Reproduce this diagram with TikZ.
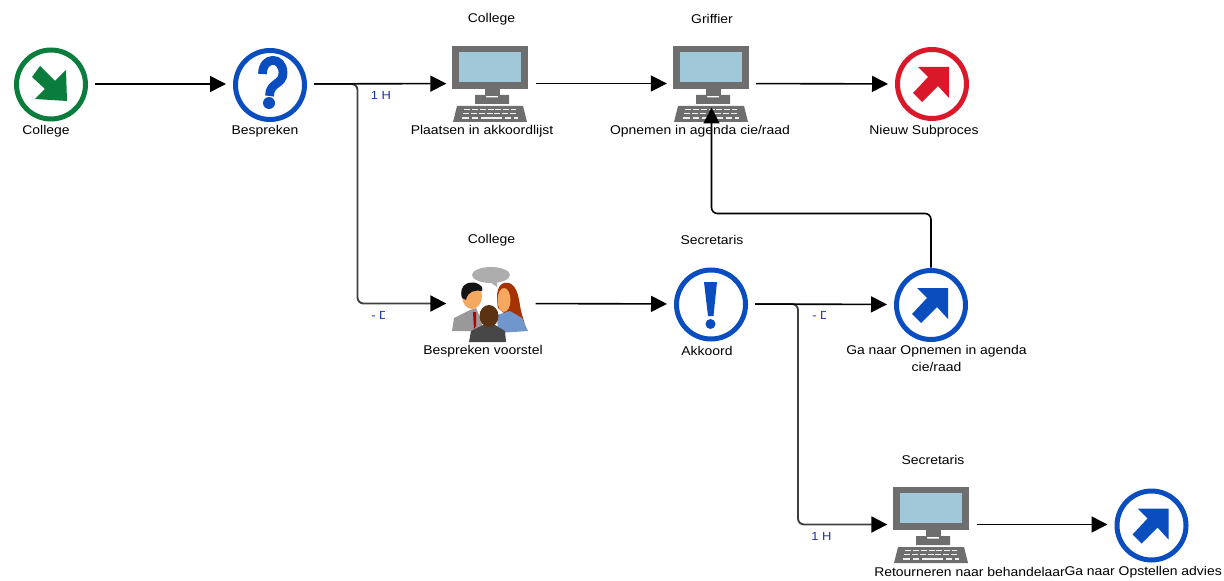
\documentclass[tikz,border=0pt]{standalone}
\usepackage{fontspec}
\setmainfont[FakeStretch=1.1]{Liberation Sans}
\usetikzlibrary{arrows.meta}
\definecolor{bluei}{HTML}{0A4DBF}
\definecolor{greeni}{HTML}{0A7D3C}
\definecolor{redi}{HTML}{D9192A}
\definecolor{scr}{HTML}{A0C8D8}
\definecolor{pcg}{HTML}{6E6E6E}
\definecolor{dur}{HTML}{1A2FB0}
\definecolor{skin}{HTML}{F5A860}
\definecolor{hairw}{HTML}{A53200}
\definecolor{dressw}{HTML}{7096CC}
\definecolor{hairm}{HTML}{5B3312}
\tikzset{
  x=0.75pt,y=-0.75pt,
  holder/.style={minimum width=66pt,minimum height=55.5pt,inner sep=0pt,outer sep=0pt},
  pcholder/.style={minimum width=67pt,minimum height=36pt,inner sep=0pt,outer sep=0pt},
  lbl/.style={font=\fontsize{9.5pt}{11pt}\selectfont,text=black,inner sep=0pt,align=center},
  durlbl/.style={font=\fontsize{8.8pt}{10pt}\selectfont,text=dur,inner sep=0pt},
  flow/.style={draw=black,line width=1.2pt,-{Triangle[length=12pt,width=12pt]}},
  branch/.style={draw=black!75,line width=1.4pt,rounded corners=4.5pt,-{Triangle[length=12pt,width=12pt,color=black]}},
  ring/.style={line width=3.75pt,fill=white},
  pics/pc/.style={code={
    \fill[pcg] (-38,-37) rectangle (38,6);
    \fill[scr] (-31,-31) rectangle (31,-1);
    \fill[pcg] (-5,6) rectangle (10,13);
    \fill[pcg] (-15,12) -- (-4,12) -- (-4,14.5) -- (8,14.5) -- (8,12) -- (19,12) -- (19,21) -- (-15,21) -- cycle;
    \fill[pcg] (-33,23) -- (33,23) -- (37,39) -- (-37,39) -- cycle;
    \draw[white!90!pcg,line width=1.1pt,dash pattern=on 4.5pt off 1.4pt] (-26,26.5) -- (26,26.5);
    \draw[white!90!pcg,line width=1.1pt,dash pattern=on 4.5pt off 1.4pt] (-27,30.5) -- (27,30.5);
    \draw[white!90!pcg,line width=1.1pt] (-28,35) -- (-21,35) (-18,35) -- (-12,35) (-9,35) -- (12,35) (15,35) -- (21,35) (24,35) -- (28,35);
  }},
  pics/goarrow/.style={code={
    \fill[#1] (17,-17) -- (-14,-17) -- (-4,-7) -- (-19,9) -- (-10,18) -- (6,2) -- (17,14) -- cycle;
  }}
}
\begin{document}
\begin{tikzpicture}
\useasboundingbox (0,0) rectangle (1224,581);
% nodes
\node[holder] (college) at (51,84) {};
\node[holder] (bespreken) at (270,84) {};
\node[pcholder] (plaatsen) at (491,83.5) {};
\node[pcholder] (opnemen) at (711.5,83.5) {};
\node[holder] (nieuw) at (932,84) {};
\node[pcholder] (voorstel) at (491,303.5) {};
\node[holder] (akkoord) at (711,304) {};
\node[holder] (ganaar) at (931,304.5) {};
\node[pcholder] (retour) at (932,524.5) {};
\node[holder] (opstellen) at (1151.5,524.5) {};

% icons
\draw[greeni,ring] (51,84.5) circle (34.5);
\fill[greeni] (67,101) -- (35,99) -- (45,89) -- (32,77) -- (40,66) -- (55,81) -- (66,70) -- cycle;
\draw[bluei,ring] (270,85) circle (34.5);
\draw[bluei,line width=6.6pt] (262.5,74) .. controls (262.5,56) and (283,56) .. (283,73) .. controls (283,85) and (269.5,82) .. (269.5,96);
\fill[bluei] (269,103) circle (6);
\pic at (490,83) {pc};
\pic at (711,83) {pc};
\draw[redi,ring] (932,84) circle (34.5);
\pic at (932,84) {goarrow=redi};
\draw[bluei,ring] (711,304.5) circle (34.5);
\fill[bluei] (704,282) -- (717,282) -- (713.5,316) -- (708,316) -- cycle;
\fill[bluei] (710.5,324) circle (5);
\draw[bluei,ring] (931,305) circle (34.5);
\pic at (931,305) {goarrow=bluei};
\pic at (931,524) {pc};
\draw[bluei,ring] (1151.5,525.5) circle (34.5);
\pic at (1151.5,525.5) {goarrow=bluei};

% people
\fill[black!32] (491,275) ellipse (19 and 8);
\fill[black!32] (490,282) -- (497,287) -- (497,281) -- cycle;
\fill[black!40] (452,331) -- (454,318) -- (470,310) -- (476,308) -- (482,322) -- (482,331) -- cycle;
\fill[red!70!black] (473,312) -- (476,312) -- (476,326) -- (474,329) -- cycle;
\fill[skin] (472,296) ellipse (10 and 13);
\fill[black!92] (462,298) .. controls (458,284) and (470,281) .. (476,283) .. controls (482,285) and (483,288) .. (482,291) .. controls (474,290) and (468,291) .. (466,300) -- cycle;
\fill[hairw] (498,308) .. controls (494,285) and (503,281) .. (509,283) .. controls (518,286) and (519,300) .. (521,311) -- (525,325) -- (512,320) -- cycle;
\fill[dressw] (497,315) -- (510,311) -- (522,318) -- (528,331) -- (498,333) -- cycle;
\fill[skin] (504,300) ellipse (6.5 and 12);
\fill[black!72] (469,342) -- (471,331) -- (483,325) -- (495,325) -- (505,331) -- (506,342) -- cycle;
\fill[hairm] (489,316) ellipse (9.5 and 11);

% connectors
\draw[branch] (bespreken.east) -- ++(43.5,0) |- (voorstel.west);
\draw[branch] (akkoord.east) -- ++(43,0) |- (retour.west);
\draw[flow] (college) -- (bespreken);
\draw[flow] (bespreken) -- (plaatsen);
\draw[flow] (plaatsen) -- (opnemen);
\draw[flow] (opnemen) -- (nieuw);
\draw[flow] (voorstel) -- (akkoord);
\draw[flow] (akkoord) -- (ganaar);
\draw[flow] (retour) -- (opstellen);
\draw[flow,rounded corners=4.5pt] (ganaar.north) -- ++(0,-54) -| (opnemen.south);

% duration labels
\node[durlbl] (d1) at (381,95) {1 H};
\begin{scope}
\clip (368,305) rectangle (384.5,325);
\node[durlbl,anchor=west] (d2) at (371,315) {- D};
\end{scope}
\begin{scope}
\clip (809,305) rectangle (825.5,325);
\node[durlbl,anchor=west] (d3) at (812,315) {- D};
\end{scope}
\node[durlbl] (d4) at (821.5,536.5) {1 H};

% labels
\node[lbl] (t1) at (46,131) {College};
\node[lbl] (t2) at (265,131) {Bespreken};
\node[lbl] (t3) at (491.5,19) {College};
\node[lbl] (t4) at (482,131) {Plaatsen in akkoordlijst};
\node[lbl] (t5) at (712,19) {Griffier};
\node[lbl] (t6) at (700,131) {Opnemen in agenda cie/raad};
\node[lbl] (t7) at (924,131) {Nieuw Subproces};
\node[lbl] (t8) at (491.5,240) {College};
\node[lbl] (t9) at (483,351) {Bespreken voorstel};
\node[lbl] (t10) at (712,240) {Secretaris};
\node[lbl] (t11) at (707,351) {Akkoord};
\node[lbl] (t12) at (936.5,351) {Ga naar Opnemen in agenda};
\node[lbl] (t13) at (936.5,367) {cie/raad};
\node[lbl] (t14) at (933,460) {Secretaris};
\node[lbl,anchor=west] (t15) at (874,572) {Retourneren naar behandelaar};
\node[lbl,anchor=east] (t16) at (1222,572) {Ga naar Opstellen advies};
\end{tikzpicture}
\end{document}
